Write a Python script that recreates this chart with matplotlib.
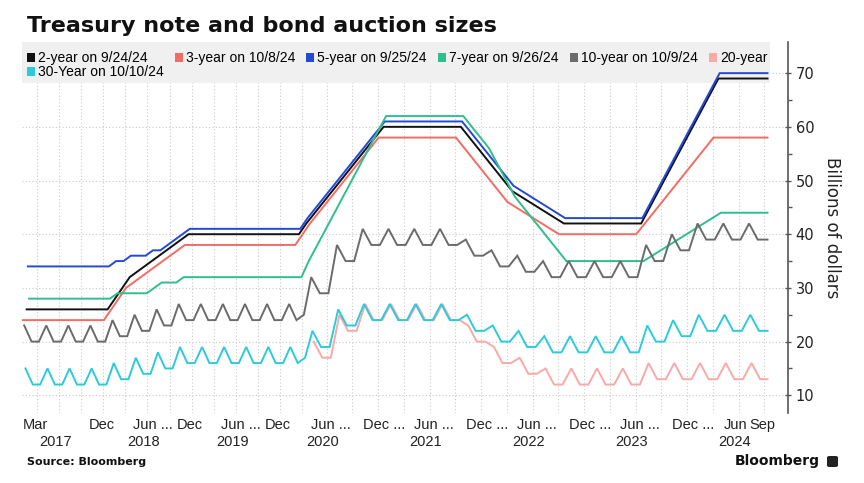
import matplotlib
matplotlib.use("Agg")
import matplotlib.pyplot as plt
from matplotlib.patches import Patch, Rectangle, FancyBboxPatch
import pandas as pd

W, H = 864, 483

# auction sizes in $bn, one value per monthly auction, starting Feb 2017
two_year = [26, 26, 26, 26, 26, 26, 26, 26, 26, 26, 26,
            26, 28, 30, 32, 33, 34, 35, 36, 37, 38, 39, 40,
            40, 40, 40, 40, 40, 40, 40, 40, 40, 40, 40, 40,
            40, 40, 40, 42, 44, 46, 48, 50, 52, 54, 56, 58,
            60, 60, 60, 60, 60, 60, 60, 60, 60, 60, 58, 56,
            54, 52, 50, 48, 47, 46, 45, 44, 43, 42, 42, 42,
            42, 42, 42, 42, 42, 42, 42, 45, 48, 51, 54, 57,
            60, 63, 66, 69, 69, 69, 69, 69, 69]
three_year = [24, 24, 24, 24, 24, 24, 24, 24, 24, 24, 24,
              24, 26, 28, 30, 31, 32, 33, 34, 35, 36, 37, 38,
              38, 38, 38, 38, 38, 38, 38, 38, 38, 38, 38, 38,
              38, 38, 38, 40, 42, 44, 46, 48, 50, 52, 54, 56,
              58, 58, 58, 58, 58, 58, 58, 58, 58, 58, 56, 54,
              52, 50, 48, 46, 45, 44, 43, 42, 41, 40, 40, 40,
              40, 40, 40, 40, 40, 40, 40, 42, 44, 46, 48, 50,
              52, 54, 56, 58, 58, 58, 58, 58, 58, 58]
five_year = [34, 34, 34, 34, 34, 34, 34, 34, 34, 34, 34,
             34, 35, 35, 36, 36, 36, 37, 37, 38, 39, 40, 41,
             41, 41, 41, 41, 41, 41, 41, 41, 41, 41, 41, 41,
             41, 41, 41, 43, 45, 47, 49, 51, 53, 55, 57, 59,
             61, 61, 61, 61, 61, 61, 61, 61, 61, 61, 59, 57,
             55, 53, 51, 49, 48, 47, 46, 45, 44, 43, 43, 43,
             43, 43, 43, 43, 43, 43, 43, 46, 49, 52, 55, 58,
             61, 64, 67, 70, 70, 70, 70, 70, 70]
seven_year = [28, 28, 28, 28, 28, 28, 28, 28, 28, 28, 28,
              28, 29, 29, 29, 29, 29, 30, 31, 31, 31, 32, 32,
              32, 32, 32, 32, 32, 32, 32, 32, 32, 32, 32, 32,
              32, 32, 32, 35, 38, 41, 44, 47, 50, 53, 56, 59,
              62, 62, 62, 62, 62, 62, 62, 62, 62, 62, 60, 58,
              56, 53, 50, 47, 45, 43, 41, 39, 37, 35, 35, 35,
              35, 35, 35, 35, 35, 35, 35, 36, 37, 38, 39, 40,
              41, 42, 43, 44, 44, 44, 44, 44, 44]
ten_year = [23, 20, 20, 23, 20, 20, 23, 20, 20, 23, 20,
            20, 24, 21, 21, 25, 22, 22, 26, 23, 23, 27, 24,
            24, 27, 24, 24, 27, 24, 24, 27, 24, 24, 27, 24,
            24, 27, 24, 25, 32, 29, 29, 38, 35, 35, 41, 38,
            38, 41, 38, 38, 41, 38, 38, 41, 38, 38, 39, 36,
            36, 37, 34, 34, 36, 33, 33, 35, 32, 32, 35, 32,
            32, 35, 32, 32, 35, 32, 32, 38, 35, 35, 40, 37,
            37, 42, 39, 39, 42, 39, 39, 42, 39, 39]
# 20-year starts May 2020
twenty_year = [20, 17, 17, 25, 22, 22, 27, 24,
               24, 27, 24, 24, 27, 24, 24, 27, 24, 24, 23, 20,
               20, 19, 16, 16, 17, 14, 14, 15, 12, 12, 15, 12,
               12, 15, 12, 12, 15, 12, 12, 16, 13, 13, 16, 13,
               13, 16, 13, 13, 16, 13, 13, 16, 13]
thirty_year = [15, 12, 12, 15, 12, 12, 15, 12, 12, 15, 12,
               12, 16, 13, 13, 17, 14, 14, 18, 15, 15, 19, 16,
               16, 19, 16, 16, 19, 16, 16, 19, 16, 16, 19, 16,
               16, 19, 16, 17, 22, 19, 19, 26, 23, 23, 27, 24,
               24, 27, 24, 24, 27, 24, 24, 27, 24, 24, 25, 22,
               22, 23, 20, 20, 22, 19, 19, 21, 18, 18, 21, 18,
               18, 21, 18, 18, 21, 18, 18, 23, 20, 20, 24, 21,
               21, 25, 22, 22, 25, 22, 22, 25, 22, 22]

# order of auctions inside a month (x axis is spaced by auction date)
ORDER = ["3y", "10y", "30y", "20y", "2y", "5y", "7y"]

SERIES = [
    ("2y", "2-year on 9/24/24", "2017-02", two_year, "#111111"),
    ("3y", "3-year on 10/8/24", "2017-02", three_year, "#f26c64"),
    ("5y", "5-year on 9/25/24", "2017-02", five_year, "#2448d8"),
    ("7y", "7-year on 9/26/24", "2017-02", seven_year, "#2dbf8e"),
    ("10y", "10-year on 10/9/24", "2017-02", ten_year, "#6b6b6b"),
    ("20y", "20-year", "2020-05", twenty_year, "#f9a9a7"),
    ("30y", "30-Year on 10/10/24", "2017-02", thirty_year, "#2ccbdc"),
]

label_months = ["2017-03", "2017-12", "2018-06", "2018-12", "2019-06", "2019-12",
                "2020-06", "2020-12", "2021-06", "2021-12", "2022-06", "2022-12",
                "2023-06", "2023-12", "2024-06", "2024-09"]
label_text = ["Mar", "Dec", "Jun ...", "Dec", "Jun ...", "Dec",
              "Jun ...", "Dec ...", "Jun ...", "Dec ...", "Jun ...", "Dec ...",
              "Jun ...", "Dec ...", "Jun", "Sep"]
years = [2017, 2018, 2019, 2020, 2021, 2022, 2023, 2024]

# ---- positions: one slot per auction date ----
months = pd.period_range("2017-02", "2024-10", freq="M")
df = pd.DataFrame(index=months, columns=ORDER, dtype=float)
for key, _, start, vals, _ in SERIES:
    df.loc[pd.period_range(start, periods=len(vals), freq="M"), key] = vals
present = df.notna()
counts = present.sum(axis=1)
starts = counts.cumsum() - counts
pos = present.cumsum(axis=1).sub(1).add(starts, axis=0).where(present)
x_end = pos.max().max()
mid = starts + (counts - 1) / 2
month_end = starts + counts - 0.5

fig = plt.figure(figsize=(W / 100, H / 100), dpi=100)
ax = fig.add_axes([22 / W, 1 - 413 / H, (788 - 22) / W, (413 - 42) / H])

for key, label, start, vals, color in SERIES:
    x = list(pos[key].dropna())
    y = list(df[key].dropna())
    if x[-1] < x_end:
        x.append(x_end)
        y.append(y[-1])
    ax.plot(x, y, color=color, lw=1.4, zorder=3, solid_joinstyle="miter")

ax.set_xlim(-0.8, (788 - 23) / ((767.5 - 23) / x_end))
ax.set_ylim(6.7, 75.8)

# grid
qe = [month_end[m] for m in months if m.month in (3, 6, 9, 12)]
ax.set_xticks(qe)
ax.tick_params(axis="x", length=0, labelbottom=False)
ax.set_yticks(range(10, 71, 10))
ax.set_yticks(range(15, 70, 10), minor=True)
ax.grid(True, which="major", color="#c9c9c9", lw=0.8, ls=(0, (1, 2)), zorder=0)
ax.set_axisbelow(True)

for s in ("left", "top", "bottom"):
    ax.spines[s].set_visible(False)
ax.spines["right"].set_color("#555555")
ax.spines["right"].set_linewidth(1.2)
ax.yaxis.tick_right()
ax.tick_params(axis="y", which="major", direction="inout", length=5, width=1,
               color="#555555", pad=3, labelsize=10.5, labelcolor="#222222")
ax.tick_params(axis="y", which="minor", direction="out", length=3, width=1,
               color="#555555")
for t in ax.get_yticklabels():
    t.set_family(["Liberation Sans Narrow", "DejaVu Sans"])

# legend background band
ax.add_patch(Rectangle((0, (413 - 83) / (413 - 42)), (770 - 22) / (788 - 22),
                       (83 - 42) / (413 - 42), transform=ax.transAxes,
                       facecolor="#f0f0f0", edgecolor="none", zorder=1))

handles = [Patch(facecolor=c, edgecolor="none") for _, _, _, _, c in SERIES]
labels = [lb for _, lb, _, _, _ in SERIES]
idx = [0, 6, 1, 2, 3, 4, 5]
ax.legend([handles[i] for i in idx], [labels[i] for i in idx], ncol=6,
          loc="upper left", bbox_to_anchor=(0.006, 0.975), frameon=False,
          handlelength=0.6, handleheight=0.6, handletextpad=0.2,
          columnspacing=0.8, labelspacing=0.0, borderpad=0, borderaxespad=0,
          prop={"family": ["Liberation Sans", "DejaVu Sans"], "size": 10})

# month / year labels
for m, txt in zip(label_months, label_text):
    ax.annotate(txt, xy=(mid[pd.Period(m, "M")], 0), xycoords=("data", "axes fraction"),
                xytext=(-8, -8.6), textcoords="offset points", ha="left", va="center",
                fontsize=10.5, color="#222222", family=["Liberation Sans", "DejaVu Sans"])
for yr in years:
    ax.annotate(str(yr), xy=(mid[pd.Period(f"{yr}-06", "M")], 0),
                xycoords=("data", "axes fraction"), xytext=(0, -21), textcoords="offset points",
                ha="center", va="center", fontsize=10.5, color="#222222",
                family=["Liberation Sans", "DejaVu Sans"])

fig.text(832 / W, 1 - 228 / H, "Billions of dollars", rotation=270, ha="center",
         va="center", fontsize=12, color="#222222")
fig.text(27 / W, 1 - 32 / H, "Treasury note and bond auction sizes", fontsize=16,
         fontweight="bold", va="baseline", color="#111111")
fig.text(27 / W, 1 - 465 / H, "Source: Bloomberg", fontsize=8, fontweight="bold",
         va="baseline", color="#111111")
fig.text(820 / W, 1 - 465 / H, "Bloomberg", fontsize=10, fontweight="bold",
         ha="right", va="baseline", color="#111111")
fig.patches.append(FancyBboxPatch((827 / W, 1 - 467 / H), 11 / W, 11 / H,
                                  boxstyle="round,pad=0,rounding_size=0.003",
                                  transform=fig.transFigure, facecolor="#222222",
                                  edgecolor="none"))

fig.savefig("out.png", dpi=100)
